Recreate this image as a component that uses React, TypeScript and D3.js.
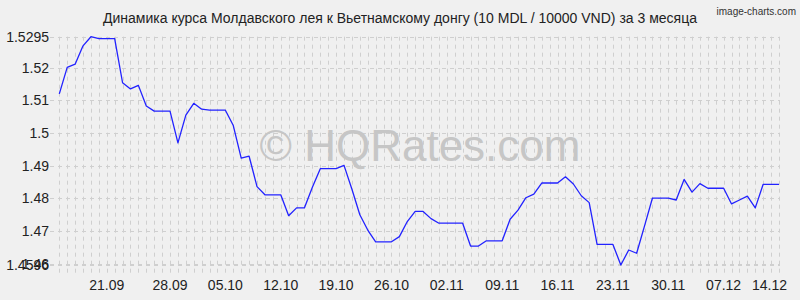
import React from "react";
import * as d3 from "d3";

const W = 800;
const H = 300;

const title = "Динамика курса Молдавского лея к Вьетнамскому донгу (10 MDL / 10000 VND) за 3 месяца";
const credit = "image-charts.com";
const watermark = "© HQRates.com";

const rates: number[] = [
  1.5120, 1.5201, 1.5211, 1.5267, 1.5295, 1.5289, 1.5289, 1.5289, 1.5154, 1.5135,
  1.5146, 1.5083, 1.5067, 1.5067, 1.5067, 1.4970, 1.5055, 1.5091, 1.5073, 1.5070,
  1.5070, 1.5070, 1.5023, 1.4923, 1.4929, 1.4836, 1.4811, 1.4811, 1.4811, 1.4747,
  1.4771, 1.4771, 1.4834, 1.4891, 1.4891, 1.4891, 1.4901, 1.4828, 1.4750, 1.4703,
  1.4667, 1.4667, 1.4667, 1.4683, 1.4729, 1.4760, 1.4760, 1.4738, 1.4724, 1.4724,
  1.4724, 1.4724, 1.4654, 1.4654, 1.4670, 1.4670, 1.4670, 1.4736, 1.4764, 1.4802,
  1.4813, 1.4847, 1.4847, 1.4847, 1.4866, 1.4844, 1.4808, 1.4787, 1.4659, 1.4659,
  1.4659, 1.4596, 1.4642, 1.4632, 1.4716, 1.4801, 1.4801, 1.4801, 1.4795, 1.4858,
  1.4819, 1.4845, 1.4831, 1.4831, 1.4831, 1.4783, 1.4795, 1.4807, 1.4771, 1.4843,
  1.4843, 1.4843,
];

const xTickLabels = ["21.09", "28.09", "05.10", "12.10", "19.10", "26.10", "02.11", "09.11", "16.11", "23.11", "30.11", "07.12", "14.12"];
const xTickIndex = [6, 14, 21, 28, 35, 42, 49, 56, 63, 70, 77, 84, 91];

const yTicks = [1.4596, 1.46, 1.47, 1.48, 1.49, 1.5, 1.51, 1.52, 1.5295];
const yTickLabels = ["1.4596", "1.46", "1.47", "1.48", "1.49", "1.5", "1.51", "1.52", "1.5295"];

const FONT = "Arial, 'Liberation Sans', sans-serif";

export default function App() {
  const plotLeft = 59.3;
  const plotRight = 779;
  const plotTop = 36.7;
  const plotBottom = 265;

  const x = d3.scaleLinear().domain([0, rates.length - 1]).range([plotLeft, plotRight]);
  const y = d3.scaleLinear().domain([d3.min(rates)!, d3.max(rates)!]).range([plotBottom, plotTop]);

  const line = d3
    .line<number>()
    .x((_, i) => x(i))
    .y((d) => y(d));

  const gridColor = "#cfcfcf";
  const textColor = "#222";

  return (
    <div style={{ position: "fixed", left: 0, top: 0, width: W, height: H }}>
      <svg width={W} height={H} style={{ display: "block" }}>
        <rect x={0} y={0} width={W} height={H} fill="#f0f0f0" />
        {/* vertical grid */}
        {rates.map((_, i) => (
          <line
            key={"v" + i}
            x1={Math.round(x(i)) + 0.5}
            x2={Math.round(x(i)) + 0.5}
            y1={plotTop}
            y2={275}
            stroke={gridColor}
            strokeWidth={1}
            strokeDasharray="4,4"
          />
        ))}
        {/* horizontal grid */}
        {yTicks.map((t, i) => (
          <line
            key={"h" + i}
            x1={50}
            x2={plotRight + 1}
            y1={Math.round(y(t)) + 0.5}
            y2={Math.round(y(t)) + 0.5}
            stroke={gridColor}
            strokeWidth={1}
            strokeDasharray="4,4"
          />
        ))}
        {/* watermark */}
        <text
          x={420}
          y={161}
          textAnchor="middle"
          fontFamily={FONT}
          fontSize={44}
          fill="#c6c6c6"
        >
          {watermark}
        </text>
        {/* y labels */}
        {yTicks.map((t, i) => (
          <text
            key={"yl" + i}
            x={49}
            y={y(t)}
            dy="0.36em"
            textAnchor="end"
            fontFamily={FONT}
            fontSize={14}
            fill={textColor}
          >
            {yTickLabels[i]}
          </text>
        ))}
        {/* x labels */}
        {xTickIndex.map((idx, i) => {
          const px = x(idx);
          const clamp = px + 17 > 787;
          return (
            <text
              key={"xl" + i}
              x={clamp ? 787 : px}
              y={290}
              textAnchor={clamp ? "end" : "middle"}
              fontFamily={FONT}
              fontSize={14}
              fill={textColor}
            >
              {xTickLabels[i]}
            </text>
          );
        })}
        {/* data line */}
        <path d={line(rates) || ""} fill="none" stroke="#2222ff" strokeWidth={1.3} strokeLinejoin="round" />
        {/* title */}
        <text x={400} y={23} textAnchor="middle" fontFamily={FONT} fontSize={14} fill={textColor}>
          {title}
        </text>
        <text x={796} y={15} textAnchor="end" fontFamily={FONT} fontSize={10} fill="#333">
          {credit}
        </text>
      </svg>
    </div>
  );
}
